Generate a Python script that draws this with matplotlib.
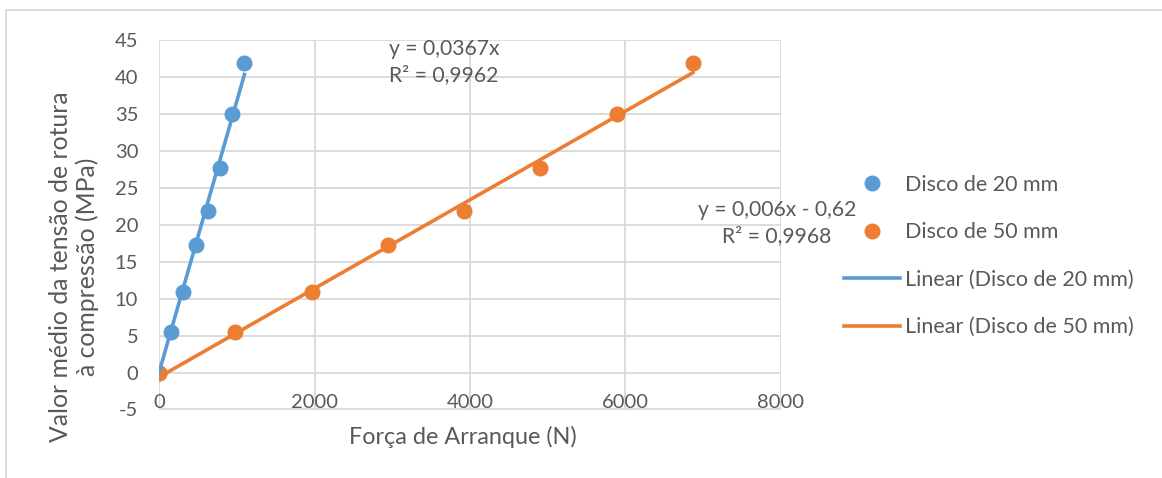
import matplotlib
matplotlib.use("Agg")
import matplotlib.pyplot as plt
from matplotlib.lines import Line2D
import numpy as np

plt.rcParams['font.family'] = ['Lato', 'DejaVu Sans']
plt.rcParams['axes.unicode_minus'] = False

# ---- data ----
x_20mm = [0, 157, 314, 471, 628, 785, 942, 1099]
x_50mm = [0, 981, 1962, 2943, 3924, 4905, 5886, 6867]
y_tensao = [0, 5.5, 10.9, 17.3, 21.8, 27.7, 35.0, 41.9]
labels = ["Disco de 20 mm", "Disco de 50 mm"]
trend_20mm = (0.0367, 0.0)     # slope, intercept
trend_50mm = (0.006, -0.62)
eq_20mm = "y = 0,0367x\nR² = 0,9962"
eq_50mm = "y = 0,006x - 0,62\nR² = 0,9968"
x_ticks = [0, 2000, 4000, 6000, 8000]
y_ticks = [-5, 0, 5, 10, 15, 20, 25, 30, 35, 40, 45]

blue = '#5B9BD5'
orange = '#ED7D31'
txt = '#595959'
grid = '#D9D9D9'

W, H = 1162, 478
fig = plt.figure(figsize=(W / 100, H / 100), dpi=100)
L, R, T, B = 159, 781, 40, 409.5
ax = fig.add_axes([L / W, 1 - B / H, (R - L) / W, (B - T) / H])

ax.set_xlim(0, 8000)
ax.set_ylim(-5, 45)
ax.set_xticks(x_ticks)
ax.set_yticks(y_ticks)
ax.grid(True, color=grid, linewidth=1.3)
ax.set_axisbelow(True)
for s in ['top', 'right', 'left', 'bottom']:
    ax.spines[s].set_visible(False)
ax.tick_params(axis='both', length=0, labelsize=14.5, labelcolor=txt)
ax.tick_params(axis='y', pad=15)
ax.tick_params(axis='x', pad=-11)

ms = 10.5
lw = 2.6
h1, = ax.plot(x_20mm, y_tensao, 'o', color=blue, markersize=ms, label=labels[0], zorder=3)
h2, = ax.plot(x_50mm, y_tensao, 'o', color=orange, markersize=ms, label=labels[1], zorder=3)

xs1 = np.array([min(x_20mm), max(x_20mm)])
xs2 = np.array([min(x_50mm), max(x_50mm)])
h3, = ax.plot(xs1, trend_20mm[0] * xs1 + trend_20mm[1], color=blue, linewidth=lw,
              label="Linear (" + labels[0] + ")", zorder=4)
h4, = ax.plot(xs2, trend_50mm[0] * xs2 + trend_50mm[1], color=orange, linewidth=lw,
              label="Linear (" + labels[1] + ")", zorder=4)

# equation labels
fig.text(389 / W, 1 - 62 / H, eq_20mm, ha='left', va='center', fontsize=15.2,
         color=txt, linespacing=1.35)
fig.text(777 / W, 1 - 223 / H, eq_50mm, ha='center', va='center', fontsize=15.2,
         color=txt, linespacing=1.35)

# axis titles
fig.text(74 / W, 1 - 267 / H, "Valor médio da tensão de rotura\nà compressão (MPa)",
         rotation=90, ha='center', va='center', fontsize=17.8, color=txt,
         linespacing=1.15, multialignment='center')
fig.text(463 / W, 1 - 437 / H, "Força de Arranque (N)", ha='center', va='center',
         fontsize=16.8, color=txt)

leg = fig.legend(handles=[h1, h2, h3, h4], loc='upper left',
                 bbox_to_anchor=(835 / W, 1 - 166 / H), frameon=False,
                 fontsize=15.5, labelcolor=txt, handlelength=2.6,
                 handletextpad=0.25, labelspacing=1.28, borderaxespad=0)

# chart border
fig.add_artist(Line2D([6 / W, 6 / W, 1], [0, 1 - 10 / H, 1 - 10 / H],
                      transform=fig.transFigure, color='#D9D9D9', linewidth=1.3))

fig.savefig('out.png', dpi=100, facecolor='white')
